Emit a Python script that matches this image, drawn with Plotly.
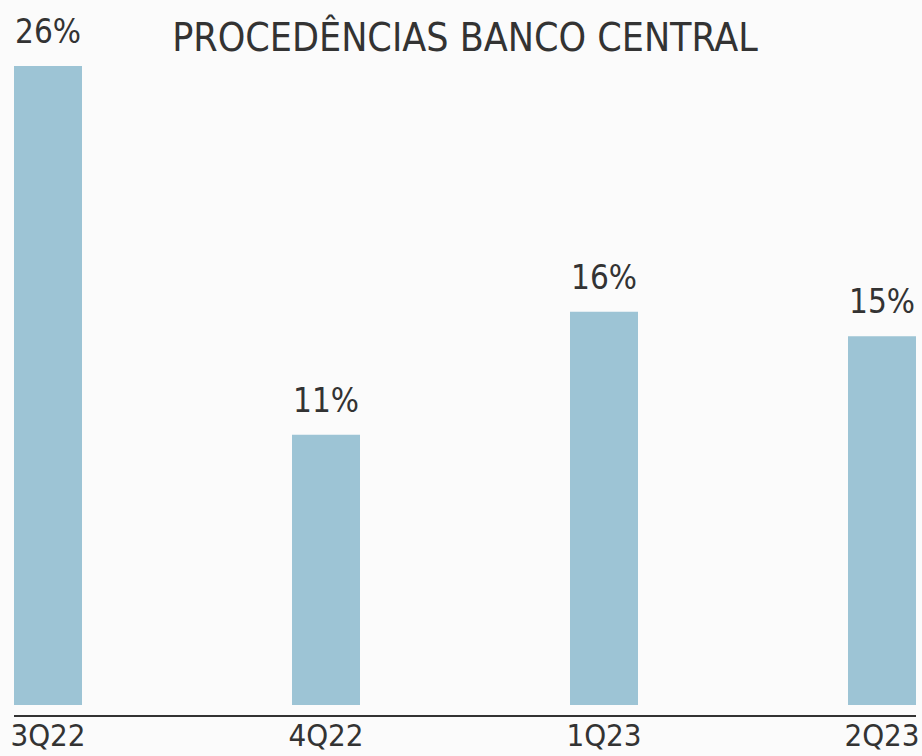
import plotly.graph_objects as go

# Data
quarters = ['3Q22', '4Q22', '1Q23', '2Q23']
values = [26, 11, 16, 15]
labels = ['26%', '11%', '16%', '15%']

font_family = 'Liberation Sans Narrow, DejaVu Sans Condensed, Arial Narrow, sans-serif'
text_color = '#333333'
bar_w = 0.2446

xs = list(range(len(quarters)))

fig = go.Figure(go.Bar(
    x=xs,
    y=values,
    width=bar_w,
    marker_color='#9DC4D5',
    marker_line_width=0,
    hoverinfo='skip',
))

# value labels above each bar
for x, v, t in zip(xs, values, labels):
    fig.add_annotation(
        x=x, y=v, text=t, showarrow=False,
        yanchor='bottom', yshift=13,
        font=dict(family=font_family, size=33, color=text_color),
    )

fig.update_layout(
    width=922, height=756,
    margin=dict(l=14, r=6, t=20, b=41),
    paper_bgcolor='#fbfbfb',
    plot_bgcolor='rgba(0,0,0,0)',
    showlegend=False,
    title=dict(
        text='PROCEDÊNCIAS BANCO CENTRAL',
        x=0.5, xanchor='center', xref='paper',
        y=0.968, yref='container', yanchor='top',
        font=dict(family=font_family, size=39, color=text_color),
    ),
    xaxis=dict(
        range=[-bar_w / 2, 3 + bar_w / 2],
        tickvals=xs, ticktext=quarters,
        showgrid=False, zeroline=False,
        showline=True, linecolor='#333333', linewidth=1.5,
        ticks='', automargin=False, ticklabelstandoff=-8,
        tickfont=dict(family=font_family, size=31, color=text_color),
    ),
    yaxis=dict(
        range=[-0.407, 27.87],
        visible=False, automargin=False,
        showgrid=False, zeroline=False,
    ),
)

fig.write_html('out.html', config={'displayModeBar': False},
               post_script="document.body.style.margin='0';document.body.style.overflow='hidden';")
